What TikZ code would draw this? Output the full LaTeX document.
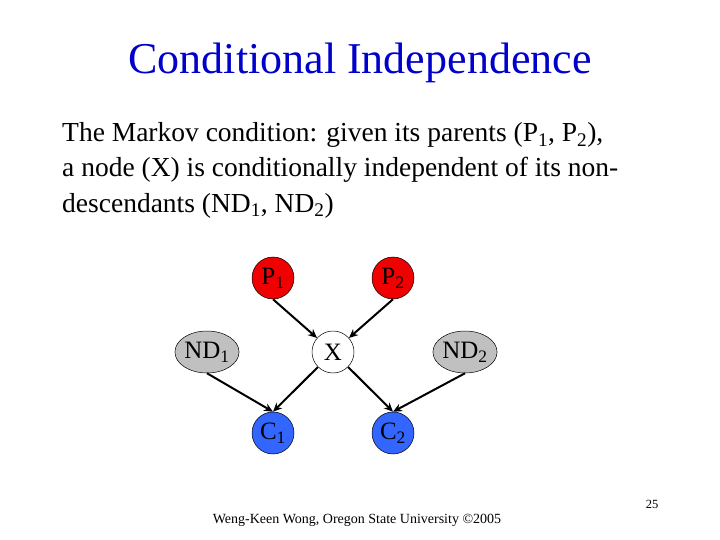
\documentclass[tikz,border=0pt]{standalone}
\usepackage{fontspec}
\setmainfont{Liberation Serif}
\usetikzlibrary{arrows.meta,shapes.geometric}
\definecolor{ttl}{RGB}{0,0,204}
\definecolor{pred}{RGB}{240,0,0}
\definecolor{ndgray}{RGB}{192,192,192}
\definecolor{cblue}{RGB}{51,102,255}
\newcommand{\sbs}[1]{\raisebox{-0.3ex}{\fontsize{0.65em}{1em}\selectfont #1}}
\tikzset{
  bn/.style={draw=black, line width=0.5pt, circle, minimum size=42pt, inner sep=0pt, font=\fontsize{25}{27}\selectfont},
  ndnode/.style={draw=black, line width=0.5pt, ellipse, minimum width=54pt, minimum height=42pt, inner sep=0pt, font=\fontsize{25}{27}\selectfont, fill=ndgray},
  edge/.style={-{Stealth[length=9pt,width=8pt]}, line width=2pt},
  body/.style={anchor=base west, inner sep=0pt, font=\fontsize{27.5}{30}\selectfont}
}
\begin{document}
\begin{tikzpicture}[x=1pt,y=-1pt]
\useasboundingbox (0,0) rectangle (720,540);
\node[anchor=base, inner sep=0pt, text=ttl, font=\fontsize{44}{46}\selectfont] (title) at (360,74) {Conditional Independence};
\node[body] (l1) at (62,142) {The Markov condition: given its parents (P\textsubscript{1}, P\textsubscript{2}),};
\node[body] (l2) at (62,177) {a node (X) is conditionally independent of its non-};
\node[body] (l3) at (62,212) {descendants (ND\textsubscript{1}, ND\textsubscript{2})};
\node[bn, fill=pred] (p1) at (273,278) {P\textsubscript{1}};
\node[bn, fill=pred] (p2) at (393,278) {P\textsubscript{2}};
\node[bn, fill=white] (x) at (333,352) {X};
\node[ndnode] (nd1) at (207,352) {ND\textsubscript{1}};
\node[ndnode] (nd2) at (465,352) {ND\textsubscript{2}};
\node[bn, fill=cblue] (c1) at (273,433) {C\textsubscript{1}};
\node[bn, fill=cblue] (c2) at (393,433) {C\textsubscript{2}};
\draw[edge] (p1.south) -- (x);
\draw[edge] (p2.south) -- (x);
\draw[edge] (x) -- (c1.north);
\draw[edge] (x) -- (c2.north);
\draw[edge] (nd1.south) -- (c1.north);
\draw[edge] (nd2.south) -- (c2.north);
\node[anchor=base, inner sep=0pt, font=\fontsize{14}{16}\selectfont] (foot) at (357,523) {Weng-Keen Wong, Oregon State University \textcopyright 2005};
\node[anchor=base, inner sep=0pt, font=\fontsize{12.5}{14}\selectfont] (pg) at (652,508) {25};
\end{tikzpicture}
\end{document}
